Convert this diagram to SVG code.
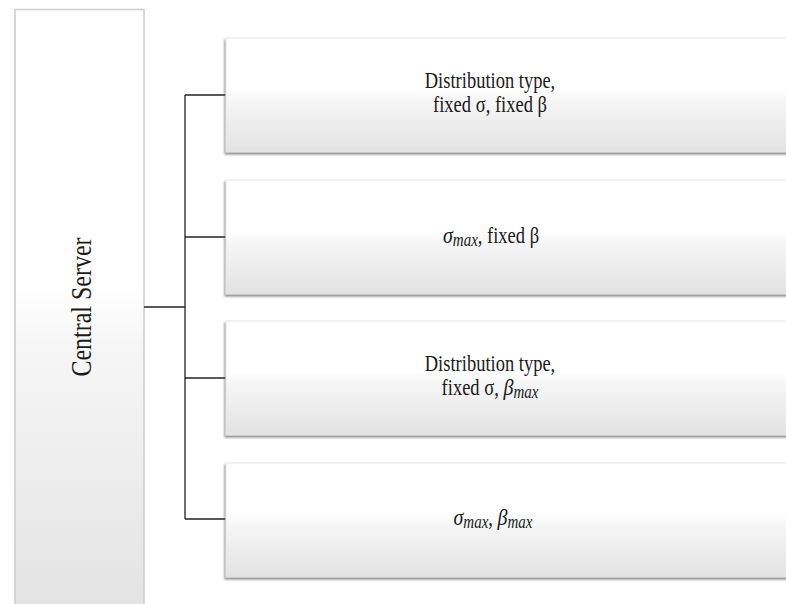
<svg xmlns="http://www.w3.org/2000/svg" width="786" height="604" viewBox="0 0 786 604">
  <defs>
    <linearGradient id="fillBox" x1="0" y1="0" x2="0" y2="1">
      <stop offset="0" stop-color="#ffffff"/>
      <stop offset="0.45" stop-color="#ffffff"/>
      <stop offset="0.55" stop-color="#f6f6f6"/>
      <stop offset="1" stop-color="#e2e2e2"/>
    </linearGradient>
    <linearGradient id="fillServer" x1="0" y1="0" x2="0" y2="1">
      <stop offset="0" stop-color="#ffffff"/>
      <stop offset="0.45" stop-color="#ffffff"/>
      <stop offset="0.55" stop-color="#f6f6f6"/>
      <stop offset="1" stop-color="#e2e2e2"/>
    </linearGradient>
    <filter id="shadow" x="-5%" y="-5%" width="110%" height="115%">
      <feDropShadow dx="-1" dy="2" stdDeviation="0.8" flood-color="#555" flood-opacity="0.7"/>
    </filter>
  </defs>
  <style>
    .box { fill: url(#fillBox); stroke: #e6e6e6; stroke-width: 1; filter: url(#shadow); }
    .server { fill: url(#fillServer); stroke: #cccccc; stroke-width: 1.5; }
    .label { font-family: "Liberation Serif", "Times New Roman", serif; font-size: 18.5px; fill: #1a1a1a; text-anchor: middle; }
    .math { font-family: "Liberation Serif", "Times New Roman", serif; font-style: italic; fill: #1a1a1a; }
    .link { fill: none; stroke: #222; stroke-width: 1.3; }
  </style>

  <rect width="786" height="604" fill="#ffffff"/>

  <!-- Central server column -->
  <g id="central-server">
    <rect class="server" x="15" y="9.5" width="129" height="610"/>
    <text class="label" transform="translate(91 307) rotate(-90) scale(1 1.25)" style="font-size:24px">Central Server</text>
  </g>

  <!-- Connectors -->
  <g id="connectors">
    <path class="link" d="M144 307 H185"/>
    <path class="link" d="M185 95 V519"/>
    <path class="link" d="M185 95 H226"/>
    <path class="link" d="M185 237 H226"/>
    <path class="link" d="M185 378 H226"/>
    <path class="link" d="M185 519 H226"/>
  </g>

  <!-- Option 1 -->
  <g id="option-1">
    <rect class="box" x="226" y="38" width="600" height="114"/>
    <text class="label" transform="translate(490 88) scale(1 1.2)">Distribution type,</text>
    <text class="label" transform="translate(490 112) scale(1 1.2)">fixed σ, fixed β</text>
  </g>

  <!-- Option 2 -->
  <g id="option-2">
    <rect class="box" x="226" y="180" width="600" height="114"/>
    <text class="label" transform="translate(491 243) scale(1 1.2)"><tspan class="math" font-size="20">σ</tspan><tspan class="math" font-size="15" dy="2.5">max</tspan><tspan dy="-2.5">, fixed β</tspan></text>
  </g>

  <!-- Option 3 -->
  <g id="option-3">
    <rect class="box" x="226" y="321" width="600" height="114"/>
    <text class="label" transform="translate(490 371) scale(1 1.2)">Distribution type,</text>
    <text class="label" transform="translate(490 395) scale(1 1.2)">fixed σ, <tspan class="math" font-size="20">β</tspan><tspan class="math" font-size="15" dy="2.5">max</tspan></text>
  </g>

  <!-- Option 4 -->
  <g id="option-4">
    <rect class="box" x="226" y="463" width="600" height="114"/>
    <text class="label" transform="translate(493 525) scale(1 1.2)"><tspan class="math" font-size="20">σ</tspan><tspan class="math" font-size="15" dy="2.5">max</tspan><tspan dy="-2.5">, </tspan><tspan class="math" font-size="20">β</tspan><tspan class="math" font-size="15" dy="2.5">max</tspan></text>
  </g>
</svg>
